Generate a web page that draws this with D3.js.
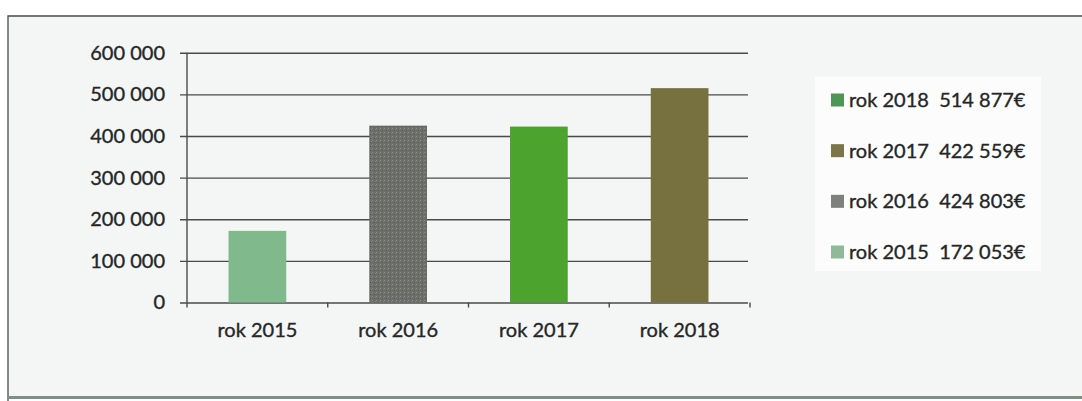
<!DOCTYPE html>
<html>
<head>
<meta charset="utf-8">
<script src="https://cdn.jsdelivr.net/npm/d3@7"></script>
<style>
  body { margin: 0; background: #fff; }
  svg { display: block; }
  text { font-family: Lato, "Open Sans", sans-serif; font-size: 20px; fill: #262626; stroke: #262626; stroke-width: 0.35px; }
</style>
</head>
<body>
<svg id="chart" width="1082" height="401"></svg>
<script>
// chart data
var categories = ['rok 2015', 'rok 2016', 'rok 2017', 'rok 2018'];
var values = [172053, 424803, 422559, 514877];
var barColors = ['#7fb98c', 'url(#grain)', '#4ca42f', '#77713f'];
var yTicks = [0, 100000, 200000, 300000, 400000, 500000, 600000];

// legend is listed newest first, with its own swatch colours
var legendOrder = ['rok 2018', 'rok 2017', 'rok 2016', 'rok 2015'];
var legendColors = ['#4f9556', '#7b7548', '#7e807d', '#8fb999'];

var svg = d3.select('#chart');

var locale = d3.formatLocale({ decimal: ',', thousands: ' ', grouping: [3], currency: ['', '€'] });
var fmt = locale.format(',d');

// textured fill used by the 2016 bar
var defs = svg.append('defs');
var grain = defs.append('pattern')
    .attr('id', 'grain')
    .attr('patternUnits', 'userSpaceOnUse')
    .attr('width', 4).attr('height', 4);
grain.append('rect').attr('width', 4).attr('height', 4).attr('fill', '#6c6e6a');
grain.append('rect').attr('x', 0).attr('y', 0).attr('width', 1).attr('height', 1).attr('fill', '#8b8d89');
grain.append('rect').attr('x', 2).attr('y', 2).attr('width', 1).attr('height', 1).attr('fill', '#555753');
grain.append('rect').attr('x', 3).attr('y', 1).attr('width', 1).attr('height', 1).attr('fill', '#7f817d');

// paper frame
svg.append('rect')
    .attr('x', 8).attr('y', 16)
    .attr('width', 1090).attr('height', 381)
    .attr('fill', '#f3f6f4');
svg.append('path')
    .attr('d', 'M8,401 V16 H1082')
    .attr('fill', 'none')
    .attr('stroke', '#4a4a4a')
    .attr('stroke-width', 1.3);
svg.append('line')
    .attr('x1', 8).attr('x2', 1082)
    .attr('y1', 397.5).attr('y2', 397.5)
    .attr('stroke', '#7f8e86')
    .attr('stroke-width', 3);

// plot area edges
var plotLeft = 187, plotRight = 750, plotTop = 52.7, plotBottom = 302.5;

var x = d3.scaleBand()
    .domain(categories)
    .range([plotLeft, plotRight])
    .paddingInner(0.59)
    .paddingOuter(0.295);

var y = d3.scaleLinear()
    .domain([0, 600000])
    .range([plotBottom, plotTop]);

// gridlines + y labels
var yAxis = svg.append('g')
    .attr('transform', 'translate(' + (plotLeft - 7) + ',0)')
    .call(d3.axisLeft(y).tickValues(yTicks).tickSize(-(plotRight - 2 - plotLeft + 7)).tickPadding(15).tickFormat(fmt));
yAxis.select('.domain').remove();
yAxis.selectAll('.tick line').attr('stroke', '#4a4a4a').attr('stroke-width', 1.4);
yAxis.selectAll('.tick text')
    .attr('font-family', null).attr('font-size', null).attr('fill', null);

// bars
svg.append('g').selectAll('rect')
    .data(values)
    .join('rect')
    .attr('x', function(d, i) { return x(categories[i]); })
    .attr('y', function(d) { return y(d); })
    .attr('width', x.bandwidth())
    .attr('height', function(d) { return y(0) - y(d); })
    .attr('fill', function(d, i) { return barColors[i]; });

// y axis line
svg.append('line')
    .attr('x1', plotLeft).attr('x2', plotLeft)
    .attr('y1', plotTop).attr('y2', plotBottom + 5)
    .attr('stroke', '#4a4a4a').attr('stroke-width', 1.4);

// category boundary ticks
var bounds = d3.range(categories.length + 1).map(function(i) { return plotLeft + i * x.step(); });
svg.append('g').selectAll('line')
    .data(bounds.slice(1))
    .join('line')
    .attr('x1', function(d) { return d; }).attr('x2', function(d) { return d; })
    .attr('y1', plotBottom).attr('y2', plotBottom + 5)
    .attr('stroke', '#4a4a4a').attr('stroke-width', 1.4);

// x labels
var xAxis = svg.append('g')
    .attr('transform', 'translate(0,' + plotBottom + ')')
    .call(d3.axisBottom(x).tickSize(0).tickPadding(20));
xAxis.select('.domain').remove();
xAxis.selectAll('.tick text')
    .attr('font-family', null).attr('font-size', null).attr('fill', null);

// legend
var legend = svg.append('g');
legend.append('rect')
    .attr('x', 815).attr('y', 77)
    .attr('width', 226).attr('height', 194)
    .attr('fill', '#fbfcfb');

var rowY = d3.scalePoint().domain(legendOrder).range([100, 252]);

var rows = legend.selectAll('g.row')
    .data(legendOrder)
    .join('g')
    .attr('class', 'row')
    .attr('transform', function(d) { return 'translate(0,' + rowY(d) + ')'; });

rows.append('rect')
    .attr('x', 831).attr('y', -6.5)
    .attr('width', 13).attr('height', 13)
    .attr('fill', function(d, i) { return legendColors[i]; });

rows.append('text')
    .attr('x', 849)
    .attr('dy', '0.35em')
    .style('white-space', 'pre')
    .text(function(d) { return d + '  ' + fmt(values[categories.indexOf(d)]) + '€'; });
</script>
</body>
</html>
